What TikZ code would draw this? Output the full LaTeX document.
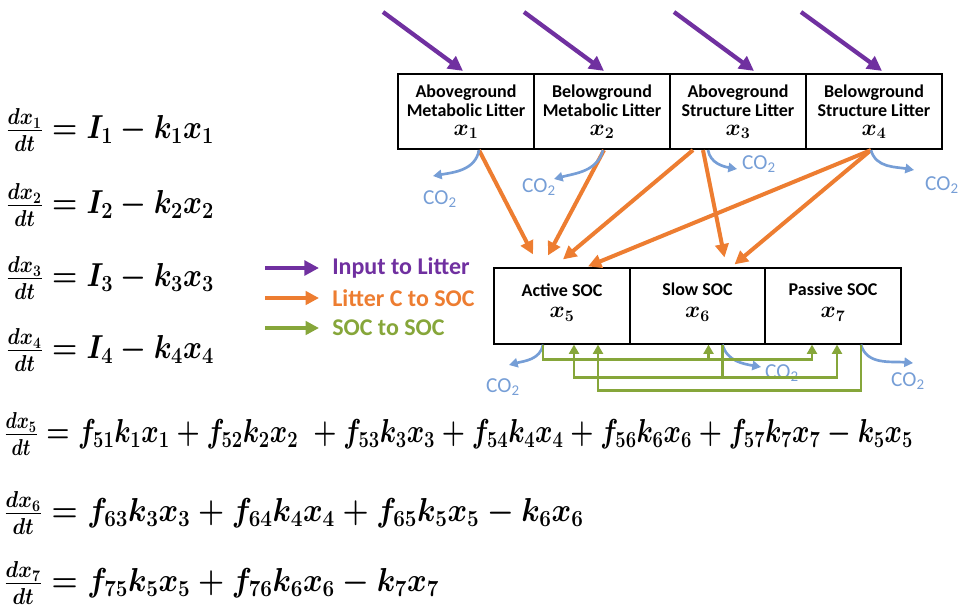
\documentclass[tikz,border=0pt]{standalone}
\usepackage{fontspec}
\setmainfont{Carlito}
\usepackage{graphicx}
\usetikzlibrary{arrows.meta}
\usetikzlibrary{calc}

\definecolor{inputpurple}{RGB}{112,48,160}
\definecolor{litterorange}{RGB}{237,125,49}
\definecolor{socgreen}{RGB}{134,166,58}
\definecolor{coblue}{RGB}{118,158,214}

\newcommand{\poolvar}[1]{{\fontsize{17}{17}\selectfont\boldmath$x_{#1}$}}
\newcommand{\eqline}[1]{\scalebox{0.87}[1]{\boldmath$#1$}}
\newcommand{\wideeq}[2][0.9]{\scalebox{#1}[1]{\boldmath$#2$}}

\tikzset{
  pool/.style={draw, line width=1.4pt, minimum width=102pt, minimum height=56.5pt,
    inner sep=0pt, align=center, font=\bfseries\fontsize{13.5}{14.25}\selectfont},
  inarrow/.style={inputpurple, line width=3.2pt, -{Triangle[length=11pt,width=11pt]}},
  litterarrow/.style={litterorange, line width=3pt, -{Triangle[length=10pt,width=10pt]}},
  socarrow/.style={socgreen, line width=2.2pt, -{Triangle[length=7pt,width=7.5pt]}},
  coarrow/.style={coblue, line width=2pt, -{Triangle[length=6.5pt,width=7pt]}},
  colabel/.style={coblue, font=\fontsize{16}{16}\selectfont, inner sep=0pt},
  legendtext/.style={anchor=west, inner sep=0pt, font=\bfseries\fontsize{18}{18}\selectfont},
  eqn/.style={anchor=west, inner sep=0pt, font=\fontsize{23}{23}\selectfont},
  longeqn/.style={anchor=west, inner sep=0pt, font=\fontsize{24}{24}\selectfont},
}

\begin{document}
\begin{tikzpicture}[x=0.75pt, y=-0.75pt]
  \useasboundingbox (0,0) rectangle (960,608);

  % litter pools
  \node[pool] (m1) at (466,111.5) {Aboveground\\Metabolic Litter\\\poolvar{1}};
  \node[pool] (m2) at (602,111.5) {Belowground\\Metabolic Litter\\\poolvar{2}};
  \node[pool] (m3) at (738,111.5) {Aboveground\\Structure Litter\\\poolvar{3}};
  \node[pool] (m4) at (874,111.5) {Belowground\\Structure Litter\\\poolvar{4}};

  % soil pools
  \node[pool] (s1) at (562,306) {Active SOC\\[2pt]\poolvar{5}\\[-6pt]\mbox{}};
  \node[pool] (s2) at (697.5,306) {Slow SOC\\[2pt]\poolvar{6}\\[-6pt]\mbox{}};
  \node[pool] (s3) at (833,306) {Passive SOC\\[2pt]\poolvar{7}\\[-6pt]\mbox{}};

  % inputs
  \coordinate (in1) at (383,12);
  \coordinate (in2) at (524,12);
  \coordinate (in3) at (674,12);
  \coordinate (in4) at (801,12);
  \draw[inarrow] (in1) -- ($(m1.north)+(-3,-2)$);
  \draw[inarrow] (in2) -- ($(m2.north)+(2,-2)$);
  \draw[inarrow] (in3) -- ($(m3.north)+(16,-2)$);
  \draw[inarrow] (in4) -- ($(m4.north)+(8,-2)$);

  % litter to soil
  \draw[litterarrow] ($(m1.south)+(13,0)$) -- ($(s1.north)+(-29,-13)$);
  \draw[litterarrow] ($(m2.south)+(2,0)$) -- ($(s1.north)+(-14,-12)$);
  \draw[litterarrow] ($(m3.south)+(-45,0)$) -- ($(s1.north)+(1,-8)$);
  \draw[litterarrow] ($(m3.south)+(-35,0)$) -- ($(s2.north)+(27,-10)$);
  \draw[litterarrow] ($(m4.south)+(-3,0)$) -- ($(s1.north)+(26,-1)$);
  \draw[litterarrow] ($(m4.south)+(-3,0)$) -- ($(s2.north)+(37,-3)$);

  % respiration
  \node[colabel] (co1) at (440,199) {CO\textsubscript{2}};
  \node[colabel] (co2) at (539,187) {CO\textsubscript{2}};
  \node[colabel] (co3) at (759,164) {CO\textsubscript{2}};
  \node[colabel] (co4) at (942,185) {CO\textsubscript{2}};
  \node[colabel] (co5) at (503,387) {CO\textsubscript{2}};
  \node[colabel] (co6) at (782,373) {CO\textsubscript{2}};
  \node[colabel] (co7) at (908,381) {CO\textsubscript{2}};
  \coordinate (r1) at (433,176);
  \coordinate (r2) at (554,179);
  \coordinate (r3) at (737,169);
  \coordinate (r4) at (914,170);
  \coordinate (r5) at (509,365);
  \coordinate (r6) at (761,367);
  \coordinate (r7) at (913,363);
  \draw[coarrow] ($(m1.south)+(13,0)$) to[out=-100, in=10] (r1);
  \draw[coarrow] ($(m2.south)+(1,0)$) to[out=-105, in=15] (r2);
  \draw[coarrow] ($(m3.south)+(-30,0)$) to[out=-80, in=170] (r3);
  \draw[coarrow] ($(m4.south)+(-3,0)$) to[out=-75, in=170] (r4);
  \draw[coarrow] ($(s1.south)+(-19,0)$) to[out=-100, in=15] (r5);
  \draw[coarrow] ($(s2.south)+(25,0)$) to[out=-75, in=170] (r6);
  \draw[coarrow] ($(s3.south)+(28,0)$) to[out=-75, in=175] (r7);

  % soil to soil
  \draw[socarrow] ($(s1.south)+(-19,0)$) -- ++(0,15) -| ($(s3.south)+(-21,0)$);
  \draw[socarrow] ($(s2.south)+(11,15)$) -- ($(s2.south)+(11,0)$);
  \draw[socarrow] ($(s2.south)+(25,0)$) -- ++(0,33) -| ($(s1.south)+(12,0)$);
  \draw[socarrow] ($(s2.south)+(25,33)$) -| ($(s3.south)+(4,0)$);
  \draw[socarrow] ($(s3.south)+(28,0)$) -- ++(0,46) -| ($(s1.south)+(36,0)$);

  % legend
  \node[legendtext, inputpurple] (lg1) at (332,268) {Input to Litter};
  \node[legendtext, litterorange] (lg2) at (332,298) {Litter C to SOC};
  \node[legendtext, socgreen] (lg3) at (332,328) {SOC to SOC};
  \draw[inarrow] ($(lg1.west)+(-67,0)$) -- ($(lg1.west)+(-13,0)$);
  \draw[litterarrow] ($(lg2.west)+(-67,0)$) -- ($(lg2.west)+(-13,0)$);
  \draw[socarrow, line width=3pt, -{Triangle[length=10pt,width=10pt]}] ($(lg3.west)+(-67,0)$) -- ($(lg3.west)+(-13,0)$);

  % model equations
  \node[eqn] (e1) at (6,130) {\eqline{\frac{dx_1}{dt}=I_1-k_1x_1}};
  \node[eqn] (e2) at (6,205) {\eqline{\frac{dx_2}{dt}=I_2-k_2x_2}};
  \node[eqn] (e3) at (6,278) {\eqline{\frac{dx_3}{dt}=I_3-k_3x_3}};
  \node[eqn] (e4) at (6,350) {\eqline{\frac{dx_4}{dt}=I_4-k_4x_4}};
  \node[longeqn] (e5) at (4,434) {\wideeq[0.8]{\frac{dx_5}{dt}=f_{51}k_1x_1+f_{52}k_2x_2\;+f_{53}k_3x_3+f_{54}k_4x_4+f_{56}k_6x_6+f_{57}k_7x_7-k_5x_5}};
  \node[longeqn] (e6) at (4,513) {\wideeq{\frac{dx_6}{dt}=f_{63}k_3x_3+f_{64}k_4x_4+f_{65}k_5x_5-k_6x_6}};
  \node[longeqn] (e7) at (4,583) {\wideeq{\frac{dx_7}{dt}=f_{75}k_5x_5+f_{76}k_6x_6-k_7x_7}};
\end{tikzpicture}
\end{document}
